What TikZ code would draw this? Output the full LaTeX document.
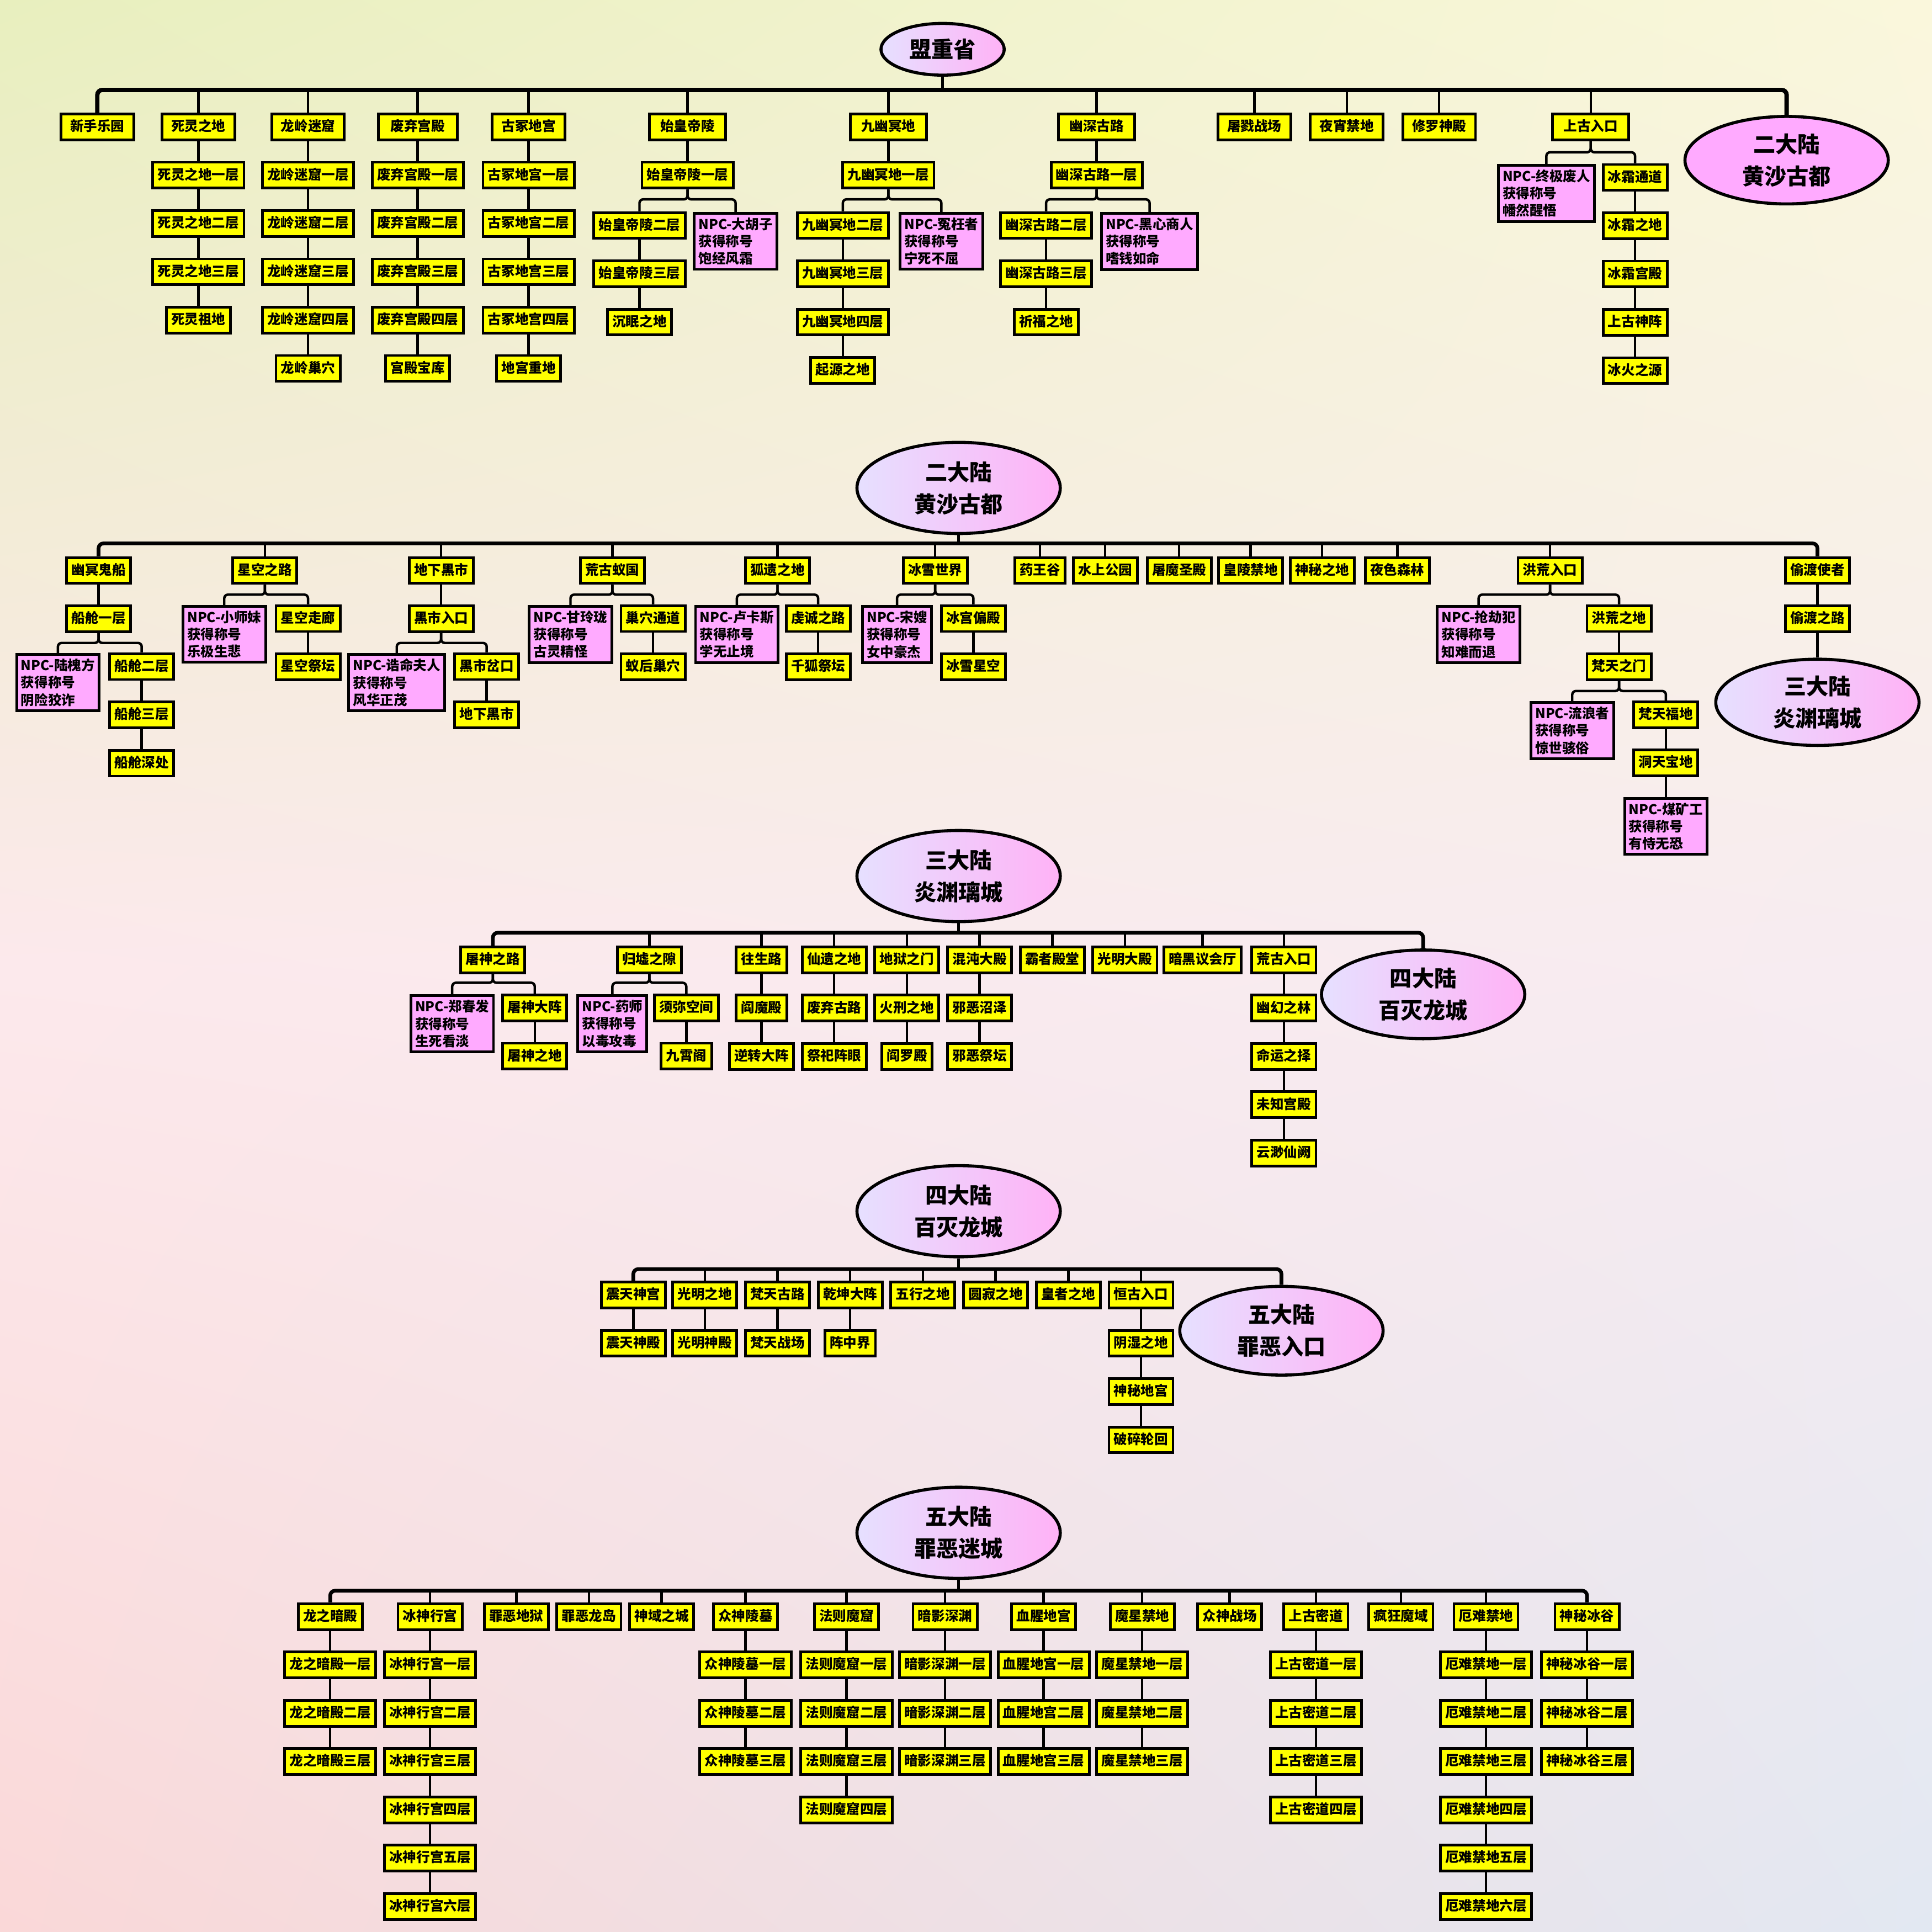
\documentclass[tikz,border=0pt]{standalone}
\usepackage{fontspec}
\newfontfamily\cjk{Noto Sans CJK SC}
\usetikzlibrary{positioning,shapes.geometric,shadings}

\definecolor{boxyellow}{HTML}{FFFF00}
\definecolor{npcpink}{HTML}{FFAAFF}
\definecolor{lavender}{HTML}{E6E0FF}
\definecolor{orchid}{HTML}{FFB2F6}
\definecolor{bgul}{HTML}{E8EFBE}
\definecolor{bgur}{HTML}{FAF7DC}
\definecolor{bgml}{HTML}{FCE9EC}
\definecolor{bgmr}{HTML}{F7ECF1}
\definecolor{bgll}{HTML}{FAD8D8}
\definecolor{bglr}{HTML}{E2E8F2}

\tikzset{
  box/.style={draw, line width=2.2pt, fill=boxyellow, inner xsep=4pt, inner ysep=0pt,
    minimum height=21pt, text height=9pt, text depth=2pt,
    font=\cjk\bfseries\fontsize{11}{13}\selectfont},
  topbox/.style={box, minimum width=59pt},
  npc/.style={draw, line width=2.2pt, fill=npcpink, inner sep=3.5pt, align=left,
    anchor=north, font=\cjk\bfseries\fontsize{11}{14}\selectfont},
  land/.style={ellipse, draw, line width=2.5pt, minimum width=165pt, minimum height=74pt,
    inner sep=1pt, align=center, font=\cjk\bfseries\fontsize{18}{26}\selectfont},
  fade/.style={left color=lavender, right color=orchid},
  link/.style={line width=2pt, rounded corners=3pt},
  trunk/.style={line width=3pt, rounded corners=4pt},
}

\begin{document}
\begin{tikzpicture}[x=1pt, y=1pt]
\shade[upper left=bgul, upper right=bgur, lower left=bgml, lower right=bgmr] (0,0) rectangle (1568,-784);
\shade[upper left=bgml, upper right=bgmr, lower left=bgll, lower right=bglr] (0,-784) rectangle (1568,-1568);
\useasboundingbox (0,0) rectangle (1568,-1568);

% 盟重省
\node[land, fade, minimum width=100pt, minimum height=42pt] at (765,-40) (mzs) {盟重省};
\coordinate (b1) at (765,-73);
\node[topbox] at (79,-103) (xs) {新手乐园};
\node[topbox] at (161,-103) (sl0) {死灵之地};
\node[topbox] at (250,-103) (ll0) {龙岭迷窟};
\node[topbox, minimum width=64pt] at (339,-103) (fq0) {废弃宫殿};
\node[topbox] at (429,-103) (gz0) {古冢地宫};
\node[topbox, minimum width=62pt] at (558,-103) (sh0) {始皇帝陵};
\node[topbox, minimum width=62pt] at (721,-103) (jy0) {九幽冥地};
\node[topbox, minimum width=62pt] at (890,-103) (ys0) {幽深古路};
\node[topbox] at (1018,-103) (tl) {屠戮战场};
\node[topbox] at (1093,-103) (yx) {夜宵禁地};
\node[topbox] at (1168,-103) (xl) {修罗神殿};
\node[topbox, minimum width=62pt] at (1291,-103) (sg0) {上古入口};
\node[land, fill=npcpink, minimum height=71pt] at (1450,-130) (ed1) {二大陆\\黄沙古都};

\draw[trunk, line width=3.5pt] (xs.north) |- (b1) -| (ed1.north);
\draw[link] (mzs) -- (b1);
\foreach \n in {sl0,ll0,fq0,gz0,sh0,jy0,ys0,tl,yx,xl,sg0}
  \draw[link] (\n.north) -- (\n.north |- b1);

\foreach \n/\lbl/\k/\tail in {sl/死灵之地/3/死灵祖地, ll/龙岭迷窟/4/龙岭巢穴,
    fq/废弃宫殿/4/宫殿宝库, gz/古冢地宫/4/地宫重地} {
  \foreach \f [count=\i, remember=\i as \j (initially 0)] in {一,二,三,四} {
    \node[box, below=16pt of \n\j] (\n\i) {\lbl\f{}层};
    \draw[link] (\n\j) -- (\n\i);
    \ifnum\i=\k\relax\breakforeach\fi
  }
  \node[box, below=16pt of \n\k] (\n9) {\tail};
  \draw[link] (\n\k) -- (\n9);
}

\node[box, below=16pt of sh0] (sh1) {始皇帝陵一层};
\node[box] at (519,-183) (sh2) {始皇帝陵二层};
\node[npc] at (597,-172) (dhz) {NPC-大胡子\\获得称号\\饱经风霜};
\node[box, below=16pt of sh2] (sh3) {始皇帝陵三层};
\node[box, below=16pt of sh3] (sh4) {沉眠之地};
\draw[link] (sh0) -- (sh1);
\draw[link] (sh1.south) -- ++(0,-8) -| (sh2.north);
\draw[link] (sh1.south) -- ++(0,-8) -| (dhz.north);
\draw[link] (sh2) -- (sh3) -- (sh4);

\node[box, below=16pt of jy0] (jy1) {九幽冥地一层};
\node[box] at (684,-183) (jy2) {九幽冥地二层};
\node[npc] at (764,-172) (ywz) {NPC-冤枉者\\获得称号\\宁死不屈};
\node[box, below=16pt of jy2] (jy3) {九幽冥地三层};
\node[box, below=16pt of jy3] (jy4) {九幽冥地四层};
\node[box, below=16pt of jy4] (jy5) {起源之地};
\draw[link] (jy0) -- (jy1);
\draw[link] (jy1.south) -- ++(0,-8) -| (jy2.north);
\draw[link] (jy1.south) -- ++(0,-8) -| (ywz.north);
\draw[link] (jy2) -- (jy3) -- (jy4) -- (jy5);

\node[box, below=16pt of ys0] (ys1) {幽深古路一层};
\node[box] at (849,-183) (ys2) {幽深古路二层};
\node[npc] at (933,-172) (hxs) {NPC-黑心商人\\获得称号\\嗜钱如命};
\node[box, below=16pt of ys2] (ys3) {幽深古路三层};
\node[box, below=16pt of ys3] (ys4) {祈福之地};
\draw[link] (ys0) -- (ys1);
\draw[link] (ys1.south) -- ++(0,-8) -| (ys2.north);
\draw[link] (ys1.south) -- ++(0,-8) -| (hxs.north);
\draw[link] (ys2) -- (ys3) -- (ys4);

\node[npc] at (1255,-133) (zjfr) {NPC-终极废人\\获得称号\\幡然醒悟};
\node[box] at (1327,-144) (sg1) {冰霜通道};
\draw[link] (sg0.south) -- ++(0,-9) -| (zjfr.north);
\draw[link] (sg0.south) -- ++(0,-9) -| (sg1.north);
\foreach \one [count=\i from 2, remember=\i as \j (initially 1)] in {冰霜之地,冰霜宫殿,上古神阵,冰火之源} {
  \node[box, below=16pt of sg\j] (sg\i) {\one};
  \draw[link] (sg\j) -- (sg\i);
}

% 二大陆
\node[land, fade] at (778,-396) (ed) {二大陆\\黄沙古都};
\coordinate (b2) at (778,-441);
\node[box] at (80,-463) (ym0) {幽冥鬼船};
\node[box] at (215,-463) (xk0) {星空之路};
\node[box] at (358,-463) (dx0) {地下黑市};
\node[box] at (497,-463) (hg0) {荒古蚁国};
\node[box] at (631,-463) (hy0) {狐遗之地};
\node[box] at (759,-463) (bx0) {冰雪世界};
\node[box] at (844,-463) (ywg) {药王谷};
\node[box] at (897,-463) (sgy) {水上公园};
\node[box] at (957,-463) (tmsd) {屠魔圣殿};
\node[box] at (1015,-463) (hljd) {皇陵禁地};
\node[box] at (1073,-463) (smzd) {神秘之地};
\node[box] at (1134,-463) (ysl) {夜色森林};
\node[box] at (1258,-463) (hh0) {洪荒入口};
\node[box] at (1475,-463) (td0) {偷渡使者};

\draw[trunk] (ym0.north) |- (b2) -| (td0.north);
\draw[link] (ed) -- (b2);
\foreach \n in {xk0,dx0,hg0,hy0,bx0,ywg,sgy,tmsd,hljd,smzd,ysl,hh0}
  \draw[link] (\n.north) -- (\n.north |- b2);

\node[box, below=16pt of ym0] (ym1) {船舱一层};
\node[npc] at (47,-530) (lhf) {NPC-陆槐方\\获得称号\\阴险狡诈};
\node[box] at (115,-541) (ym2) {船舱二层};
\node[box, below=16pt of ym2] (ym3) {船舱三层};
\node[box, below=16pt of ym3] (ym4) {船舱深处};
\draw[link] (ym0) -- (ym1);
\draw[link] (ym1.south) -- ++(0,-8) -| (lhf.north);
\draw[link] (ym1.south) -- ++(0,-8) -| (ym2.north);
\draw[link] (ym2) -- (ym3) -- (ym4);

\node[npc] at (182,-491) (xsm) {NPC-小师妹\\获得称号\\乐极生悲};
\node[box] at (250,-502) (xk1) {星空走廊};
\node[box, below=16pt of xk1] (xk2) {星空祭坛};
\draw[link] (xk0.south) -- ++(0,-8) -| (xsm.north);
\draw[link] (xk0.south) -- ++(0,-8) -| (xk1.north);
\draw[link] (xk1) -- (xk2);

\node[box, below=16pt of dx0] (dx1) {黑市入口};
\node[npc] at (322,-530) (gmfr) {NPC-诰命夫人\\获得称号\\风华正茂};
\node[box] at (395,-541) (dx2) {黑市岔口};
\node[box, below=16pt of dx2] (dx3) {地下黑市};
\draw[link] (dx0) -- (dx1);
\draw[link] (dx1.south) -- ++(0,-8) -| (gmfr.north);
\draw[link] (dx1.south) -- ++(0,-8) -| (dx2.north);
\draw[link] (dx2) -- (dx3);

\node[npc] at (463,-491) (gll) {NPC-甘玲珑\\获得称号\\古灵精怪};
\node[box] at (530,-502) (hg1) {巢穴通道};
\node[box, below=16pt of hg1] (hg2) {蚁后巢穴};
\draw[link] (hg0.south) -- ++(0,-8) -| (gll.north);
\draw[link] (hg0.south) -- ++(0,-8) -| (hg1.north);
\draw[link] (hg1) -- (hg2);

\node[npc] at (598,-491) (lks) {NPC-卢卡斯\\获得称号\\学无止境};
\node[box] at (664,-502) (hy1) {虔诚之路};
\node[box, below=16pt of hy1] (hy2) {千狐祭坛};
\draw[link] (hy0.south) -- ++(0,-8) -| (lks.north);
\draw[link] (hy0.south) -- ++(0,-8) -| (hy1.north);
\draw[link] (hy1) -- (hy2);

\node[npc] at (728,-491) (songsao) {NPC-宋嫂\\获得称号\\女中豪杰};
\node[box] at (790,-502) (bx1) {冰宫偏殿};
\node[box, below=16pt of bx1] (bx2) {冰雪星空};
\draw[link] (bx0.south) -- ++(0,-8) -| (songsao.north);
\draw[link] (bx0.south) -- ++(0,-8) -| (bx1.north);
\draw[link] (bx1) -- (bx2);

\node[npc] at (1200,-491) (qjf) {NPC-抢劫犯\\获得称号\\知难而退};
\node[box] at (1314,-502) (hh1) {洪荒之地};
\node[box, below=16pt of hh1] (hh2) {梵天之门};
\node[npc] at (1276,-569) (lls) {NPC-流浪者\\获得称号\\惊世骇俗};
\node[box] at (1352,-580) (hh3) {梵天福地};
\node[box, below=16pt of hh3] (hh4) {洞天宝地};
\node[npc, below=16pt of hh4] (mkg) {NPC-煤矿工\\获得称号\\有恃无恐};
\draw[link] (hh0.south) -- ++(0,-8) -| (qjf.north);
\draw[link] (hh0.south) -- ++(0,-8) -| (hh1.north);
\draw[link] (hh1) -- (hh2);
\draw[link] (hh2.south) -- ++(0,-8) -| (lls.north);
\draw[link] (hh2.south) -- ++(0,-8) -| (hh3.north);
\draw[link] (hh3) -- (hh4) -- (mkg);

\node[box, below=16pt of td0] (td1) {偷渡之路};
\node[land, fade, minimum height=70pt] at (1475,-570) (sd1) {三大陆\\炎渊璃城};
\draw[link] (td0) -- (td1) -- (sd1);

% 三大陆
\node[land, fade] at (778,-711) (sd) {三大陆\\炎渊璃城};
\coordinate (b3) at (778,-757);
\node[box] at (400,-779) (ts0) {屠神之路};
\node[box] at (527,-779) (gx0) {归墟之隙};
\node[box] at (618,-779) (wsl0) {往生路};
\node[box] at (677,-779) (xy0) {仙遗之地};
\node[box] at (736,-779) (dy0) {地狱之门};
\node[box] at (795,-779) (hd0) {混沌大殿};
\node[box] at (854,-779) (bzdt) {霸者殿堂};
\node[box] at (913,-779) (gmdd) {光明大殿};
\node[box] at (976,-779) (ahyh) {暗黑议会厅};
\node[box] at (1042,-779) (hk0) {荒古入口};
\node[land, fade, minimum height=72pt] at (1155,-807) (sid1) {四大陆\\百灭龙城};

\draw[trunk] (ts0.north) |- (b3) -| (sid1.north);
\draw[link] (sd) -- (b3);
\foreach \n in {gx0,wsl0,xy0,dy0,hd0,bzdt,gmdd,ahyh,hk0}
  \draw[link] (\n.north) -- (\n.north |- b3);

\node[npc] at (367,-807) (zcf) {NPC-郑春发\\获得称号\\生死看淡};
\node[box] at (434,-818) (ts1) {屠神大阵};
\node[box, below=16pt of ts1] (ts2) {屠神之地};
\draw[link] (ts0.south) -- ++(0,-7) -| (zcf.north);
\draw[link] (ts0.south) -- ++(0,-7) -| (ts1.north);
\draw[link] (ts1) -- (ts2);

\node[npc] at (497,-807) (yaoshi) {NPC-药师\\获得称号\\以毒攻毒};
\node[box] at (557,-818) (gx1) {须弥空间};
\node[box, below=16pt of gx1] (gx2) {九霄阁};
\draw[link] (gx0.south) -- ++(0,-7) -| (yaoshi.north);
\draw[link] (gx0.south) -- ++(0,-7) -| (gx1.north);
\draw[link] (gx1) -- (gx2);

\foreach \n/\one/\two in {wsl/阎魔殿/逆转大阵, xy/废弃古路/祭祀阵眼,
    dy/火刑之地/阎罗殿, hd/邪恶沼泽/邪恶祭坛} {
  \node[box, below=16pt of \n0] (\n1) {\one};
  \node[box, below=16pt of \n1] (\n2) {\two};
  \draw[link] (\n0) -- (\n1) -- (\n2);
}

\foreach \one [count=\i, remember=\i as \j (initially 0)] in {幽幻之林,命运之择,未知宫殿,云渺仙阙} {
  \node[box, below=16pt of hk\j] (hk\i) {\one};
  \draw[link] (hk\j) -- (hk\i);
}

% 四大陆
\node[land, fade] at (778,-983) (sid) {四大陆\\百灭龙城};
\coordinate (b4) at (778,-1030);
\node[box] at (514,-1051) (zt0) {震天神宫};
\node[box] at (572,-1051) (gmzd0) {光明之地};
\node[box] at (631,-1051) (ft0) {梵天古路};
\node[box] at (690,-1051) (qk0) {乾坤大阵};
\node[box] at (749,-1051) (wxzd) {五行之地};
\node[box] at (808,-1051) (yjzd) {圆寂之地};
\node[box] at (867,-1051) (hzzd) {皇者之地};
\node[box] at (926,-1051) (hgr0) {恒古入口};
\node[land, fade, minimum height=72pt] at (1040,-1080) (wd1) {五大陆\\罪恶入口};

\draw[trunk] (zt0.north) |- (b4) -| (wd1.north);
\draw[link] (sid) -- (b4);
\foreach \n in {gmzd0,ft0,qk0,wxzd,yjzd,hzzd,hgr0}
  \draw[link] (\n.north) -- (\n.north |- b4);

\foreach \n/\one in {zt/震天神殿, gmzd/光明神殿, ft/梵天战场, qk/阵中界} {
  \node[box, below=16pt of \n0] (\n1) {\one};
  \draw[link] (\n0) -- (\n1);
}
\foreach \one [count=\i, remember=\i as \j (initially 0)] in {阴湿之地,神秘地宫,破碎轮回} {
  \node[box, below=16pt of hgr\j] (hgr\i) {\one};
  \draw[link] (hgr\j) -- (hgr\i);
}

% 五大陆
\node[land, fade] at (778,-1244) (wd) {五大陆\\罪恶迷城};
\coordinate (b5) at (778,-1291);
\node[box] at (268,-1312) (la0) {龙之暗殿};
\node[box] at (349,-1312) (bs0) {冰神行宫};
\node[box] at (419,-1312) (zeyd) {罪恶地狱};
\node[box] at (478,-1312) (zeld) {罪恶龙岛};
\node[box] at (537,-1312) (syzc) {神域之城};
\node[box] at (605,-1312) (zsl0) {众神陵墓};
\node[box] at (687,-1312) (fz0) {法则魔窟};
\node[box] at (767,-1312) (ay0) {暗影深渊};
\node[box] at (847,-1312) (xx0) {血腥地宫};
\node[box] at (927,-1312) (mx0) {魔星禁地};
\node[box] at (998,-1312) (zszc) {众神战场};
\node[box] at (1068,-1312) (sgm0) {上古密道};
\node[box] at (1137,-1312) (fkmy) {疯狂魔域};
\node[box] at (1206,-1312) (en0) {厄难禁地};
\node[box] at (1288,-1312) (smb0) {神秘冰谷};

\draw[trunk] (la0.north) |- (b5) -| (smb0.north);
\draw[link] (wd) -- (b5);
\foreach \n in {bs0,zeyd,zeld,syzc,zsl0,fz0,ay0,xx0,mx0,zszc,sgm0,fkmy,en0}
  \draw[link] (\n.north) -- (\n.north |- b5);

\foreach \n/\lbl/\k in {la/龙之暗殿/3, bs/冰神行宫/6, zsl/众神陵墓/3, fz/法则魔窟/4,
    ay/暗影深渊/3, xx/血腥地宫/3, mx/魔星禁地/3, sgm/上古密道/4, en/厄难禁地/6, smb/神秘冰谷/3} {
  \foreach \f [count=\i, remember=\i as \j (initially 0)] in {一,二,三,四,五,六} {
    \node[box, below=16pt of \n\j] (\n\i) {\lbl\f{}层};
    \draw[link] (\n\j) -- (\n\i);
    \ifnum\i=\k\relax\breakforeach\fi
  }
}
\end{tikzpicture}
\end{document}
